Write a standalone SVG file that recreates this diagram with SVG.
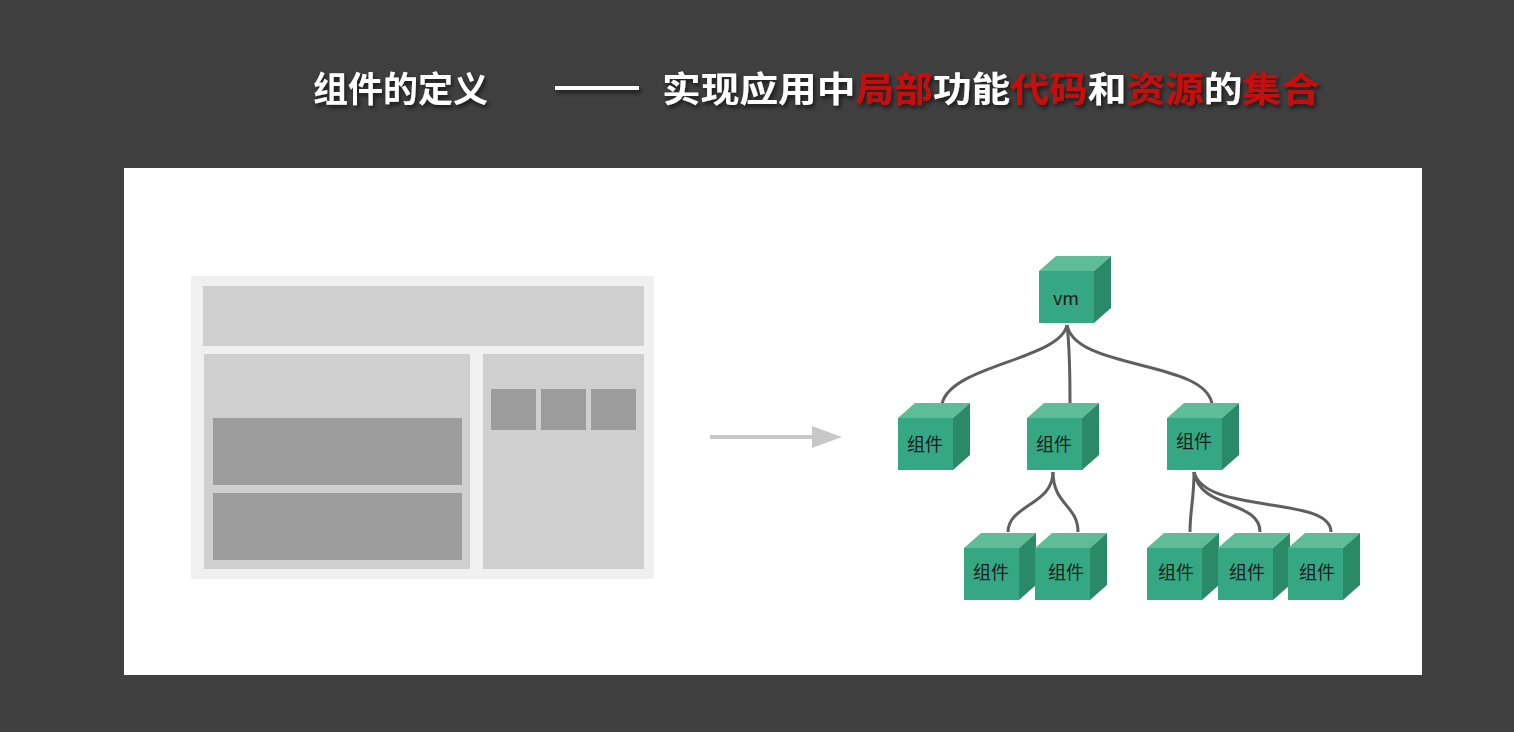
<svg xmlns="http://www.w3.org/2000/svg" width="1514" height="732" viewBox="0 0 1514 732">
<defs>
<style>
.t{font-family:"Noto Sans CJK SC","Noto Sans",sans-serif;font-weight:bold;font-size:35px;fill:#fff}
.r{fill:#c8100c}
.cf{fill:#35a883}.ct{fill:#5ebd98}.cs{fill:#2a8a68}
.lbl{font-family:"Noto Sans CJK SC","Noto Sans",sans-serif;font-size:18px;fill:#1a1a1a;text-anchor:middle}
.c path{fill:none;stroke:#5f5f5f;stroke-width:3}
</style>
<filter id="sh"><feDropShadow dx="2" dy="3" stdDeviation="2" flood-color="#000" flood-opacity="0.6"/></filter>
<g id="cube"><polygon class="ct" points="0,0 17,-15 72,-15 55,0"/><polygon class="cs" points="55,0 72,-15 72,37 55,52"/><rect class="cf" x="0" y="0" width="55" height="52"/></g>
</defs>
<rect width="1514" height="732" fill="#3f3f3f"/>
<g filter="url(#sh)">
<text class="t" x="313" y="102" font-size="37">组件的定义</text>
<rect x="555" y="86" width="84" height="4" fill="#fff"/>
<text class="t" x="662" y="102" textLength="658" lengthAdjust="spacingAndGlyphs">实现应用中<tspan class="r">局部</tspan>功能<tspan class="r">代码</tspan>和<tspan class="r">资源</tspan>的<tspan class="r">集合</tspan></text>
</g>
<rect x="124" y="168" width="1298" height="507" fill="#fff"/>
<g id="wireframe">
<rect x="191" y="276" width="463" height="303" fill="#f0f0f0"/>
<rect x="203" y="286" width="441" height="60" fill="#d0d0d1"/>
<rect x="204" y="354" width="266" height="215" fill="#cfcfd0"/>
<rect x="213" y="418" width="249" height="67" fill="#9d9d9e"/>
<rect x="213" y="493" width="249" height="67" fill="#9d9d9e"/>
<rect x="483" y="354" width="161" height="215" fill="#cfcfd0"/>
<rect x="491" y="389" width="45" height="41" fill="#9c9c9c"/>
<rect x="541" y="389" width="45" height="41" fill="#9c9c9c"/>
<rect x="591" y="389" width="45" height="41" fill="#9c9c9c"/>
</g>
<g id="arrow"><line x1="710" y1="437" x2="815" y2="437" stroke="#c8c8c8" stroke-width="4"/><polygon points="812,426 842,437 812,448" fill="#c8c8c8"/></g>
<g class="c">
<path d="M1067,325 C1060,360 950,365 942,404"/>
<path d="M1067,325 C1070,350 1070,380 1070,404"/>
<path d="M1067,325 C1075,370 1205,360 1212,404"/>
<path d="M1053,472 C1053,505 1008,505 1008,532"/>
<path d="M1053,472 C1053,505 1078,505 1078,532"/>
<path d="M1194,472 C1194,500 1190,510 1190,532"/>
<path d="M1194,472 C1200,510 1260,500 1260,532"/>
<path d="M1194,472 C1205,515 1331,495 1331,532"/>
</g>
<g id="n-vm"><use href="#cube" x="1039" y="271"/><text class="lbl" x="1066" y="305" font-size="20">vm</text></g>
<g id="n1"><use href="#cube" x="898" y="418"/><text class="lbl" x="925" y="451">组件</text></g>
<g id="n2"><use href="#cube" x="1027" y="418"/><text class="lbl" x="1054" y="451">组件</text></g>
<g id="n3"><use href="#cube" x="1167" y="418"/><text class="lbl" x="1194" y="448">组件</text></g>
<g id="n4"><use href="#cube" x="964" y="548"/><text class="lbl" x="991" y="579">组件</text></g>
<g id="n5"><use href="#cube" x="1035" y="548"/><text class="lbl" x="1066" y="579">组件</text></g>
<g id="n6"><use href="#cube" x="1147" y="548"/><text class="lbl" x="1176" y="579">组件</text></g>
<g id="n7"><use href="#cube" x="1218" y="548"/><text class="lbl" x="1247" y="579">组件</text></g>
<g id="n8"><use href="#cube" x="1288" y="548"/><text class="lbl" x="1317" y="579">组件</text></g>
</svg>
